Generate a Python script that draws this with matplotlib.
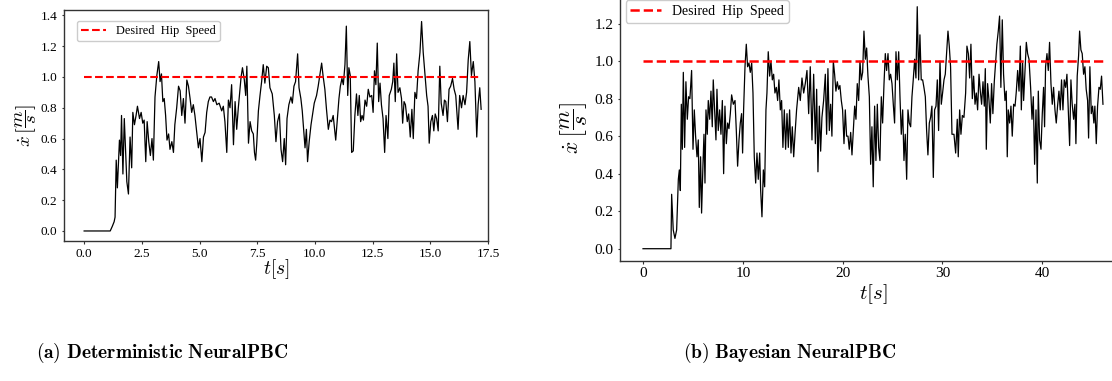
import matplotlib
matplotlib.use("Agg")
import matplotlib.pyplot as plt

plt.rcParams["font.family"] = ["Liberation Serif", "DejaVu Serif"]
plt.rcParams["mathtext.fontset"] = "cm"

# -----------------------------
# Deterministic NeuralPBC
# -----------------------------
det_t = [
    0.00, 1.13, 1.22, 1.30, 1.34, 1.39, 1.44, 1.53, 1.58, 1.62,
    1.68, 1.74, 1.85, 1.92, 1.99, 2.06, 2.11, 2.18, 2.25, 2.31,
    2.40, 2.47, 2.54, 2.60, 2.67, 2.73, 2.80, 2.87, 2.94, 3.00,
    3.07, 3.15, 3.23, 3.29, 3.35, 3.41, 3.47, 3.53, 3.59, 3.66,
    3.72, 3.80, 3.87, 3.93, 4.01, 4.09, 4.16, 4.23, 4.30, 4.37,
    4.45, 4.52, 4.59, 4.66, 4.73, 4.80, 4.88, 4.95, 5.02, 5.10,
    5.17, 5.24, 5.31, 5.38, 5.45, 5.52, 5.60, 5.67, 5.75, 5.85,
    5.96, 6.03, 6.10, 6.18, 6.25, 6.32, 6.39, 6.47, 6.54, 6.61,
    6.68, 6.80, 6.86, 6.94, 7.00, 7.05, 7.12, 7.19, 7.26, 7.33,
    7.38, 7.43, 7.48, 7.55, 7.62, 7.69, 7.76, 7.83, 7.91, 7.98,
    8.05, 8.15, 8.24, 8.31, 8.38, 8.46, 8.53, 8.60, 8.67, 8.73,
    8.79, 8.87, 8.96, 9.02, 9.09, 9.16, 9.25, 9.31, 9.39, 9.45,
    9.51, 9.57, 9.63, 9.68, 9.75, 9.83, 9.90, 9.97, 10.07, 10.14,
    10.23, 10.29, 10.35, 10.43, 10.50, 10.58, 10.65, 10.72, 10.79, 10.90,
    10.98, 11.04, 11.10, 11.17, 11.23, 11.30, 11.36, 11.42, 11.47, 11.53,
    11.59, 11.66, 11.73, 11.80, 11.86, 11.92, 11.98, 12.04, 12.10, 12.17,
    12.24, 12.31, 12.38, 12.46, 12.52, 12.58, 12.64, 12.70, 12.76, 12.82,
    12.88, 12.95, 13.02, 13.08, 13.16, 13.22, 13.31, 13.37, 13.42, 13.48,
    13.54, 13.60, 13.68, 13.75, 13.80, 13.86, 13.92, 14.00, 14.06, 14.13,
    14.20, 14.26, 14.33, 14.40, 14.47, 14.55, 14.62, 14.69, 14.77, 14.84,
    14.90, 14.95, 15.02, 15.09, 15.15, 15.21, 15.27, 15.34, 15.41, 15.47,
    15.55, 15.61, 15.67, 15.74, 15.81, 15.88, 15.96, 16.03, 16.10, 16.20,
    16.27, 16.35, 16.42, 16.50, 16.57, 16.64, 16.71, 16.78, 16.86, 16.93,
    17.01, 17.07, 17.14, 17.20,
]
det_v = [
    0.00, 0.00, 0.03, 0.06, 0.09, 0.46, 0.28, 0.59, 0.49, 0.75,
    0.37, 0.73, 0.32, 0.24, 0.61, 0.41, 0.77, 0.69, 0.75, 0.81,
    0.73, 0.77, 0.70, 0.72, 0.45, 0.71, 0.58, 0.49, 0.60, 0.46,
    0.87, 1.01, 1.10, 0.97, 1.02, 0.84, 0.86, 0.75, 0.59, 0.63,
    0.53, 0.58, 0.51, 0.69, 0.80, 0.94, 0.91, 0.75, 0.86, 0.70,
    0.98, 0.94, 0.86, 0.77, 0.82, 0.75, 0.64, 0.54, 0.60, 0.45,
    0.61, 0.64, 0.77, 0.84, 0.87, 0.87, 0.84, 0.86, 0.82, 0.83,
    0.78, 0.81, 0.71, 0.51, 0.85, 0.80, 0.95, 0.56, 0.84, 0.66,
    0.80, 1.00, 1.06, 0.98, 0.88, 1.07, 0.57, 0.71, 0.65, 0.63,
    0.51, 0.46, 0.57, 0.78, 0.88, 0.97, 1.08, 0.96, 1.07, 1.06,
    0.93, 0.89, 0.75, 0.58, 0.71, 0.76, 0.53, 0.45, 0.60, 0.43,
    0.73, 0.82, 0.87, 0.83, 0.94, 0.97, 1.15, 0.93, 0.86, 0.78,
    0.66, 0.54, 0.66, 0.45, 0.58, 0.69, 0.76, 0.83, 0.88, 0.94,
    1.03, 1.09, 1.01, 0.92, 0.79, 0.66, 0.72, 0.71, 0.75, 0.59,
    0.74, 0.86, 0.94, 0.99, 0.95, 1.08, 1.33, 0.88, 1.06, 1.01,
    0.51, 0.52, 0.75, 0.89, 0.75, 0.88, 0.71, 0.75, 0.72, 0.85,
    0.81, 0.92, 0.87, 0.88, 0.77, 1.04, 0.95, 1.22, 0.84, 0.96,
    0.82, 0.73, 0.51, 0.75, 0.60, 0.88, 0.92, 0.97, 1.09, 0.84,
    1.15, 0.90, 0.93, 0.86, 0.70, 0.84, 0.82, 0.71, 0.76, 0.61,
    0.79, 0.60, 0.90, 0.86, 1.04, 1.16, 1.36, 1.16, 1.01, 0.88,
    0.81, 0.57, 0.71, 0.75, 0.65, 0.76, 0.73, 0.65, 1.07, 0.83,
    0.75, 0.85, 0.84, 0.71, 0.92, 0.94, 0.99, 0.92, 0.88, 0.66,
    0.88, 0.80, 0.88, 0.82, 0.90, 1.11, 1.23, 1.01, 1.10, 0.97,
    0.61, 0.82, 0.93, 0.79,
]

# -----------------------------
# Bayesian NeuralPBC
# -----------------------------
bay_t = [
    0.00, 2.80, 2.87, 3.03, 3.20, 3.37, 3.54, 3.64, 3.74, 3.84,
    3.94, 4.04, 4.17, 4.30, 4.44, 4.57, 4.70, 4.87, 5.01, 5.14,
    5.27, 5.41, 5.54, 5.64, 5.77, 5.87, 6.01, 6.11, 6.21, 6.31,
    6.44, 6.54, 6.68, 6.81, 6.94, 7.04, 7.18, 7.31, 7.41, 7.54,
    7.68, 7.81, 7.95, 8.08, 8.21, 8.35, 8.48, 8.61, 8.75, 8.88,
    9.05, 9.22, 9.35, 9.48, 9.62, 9.75, 9.88, 9.98, 10.08, 10.22,
    10.35, 10.48, 10.62, 10.75, 10.89, 11.02, 11.15, 11.29, 11.42, 11.55,
    11.69, 11.79, 11.92, 12.06, 12.19, 12.32, 12.42, 12.55, 12.69, 12.82,
    12.96, 13.09, 13.22, 13.36, 13.49, 13.62, 13.76, 13.89, 14.02, 14.16,
    14.29, 14.43, 14.56, 14.69, 14.83, 14.96, 15.10, 15.23, 15.39, 15.60,
    15.76, 15.93, 16.10, 16.26, 16.43, 16.60, 16.76, 16.93, 17.10, 17.27,
    17.40, 17.53, 17.67, 17.80, 17.93, 18.10, 18.27, 18.40, 18.53, 18.67,
    18.80, 18.93, 19.07, 19.20, 19.33, 19.47, 19.60, 19.73, 19.87, 20.00,
    20.14, 20.27, 20.40, 20.54, 20.67, 20.81, 20.94, 21.07, 21.21, 21.34,
    21.47, 21.61, 21.74, 21.87, 22.01, 22.14, 22.28, 22.41, 22.54, 22.68,
    22.81, 22.94, 23.07, 23.21, 23.34, 23.48, 23.61, 23.74, 23.88, 24.01,
    24.15, 24.28, 24.41, 24.55, 24.68, 24.81, 24.95, 25.08, 25.21, 25.35,
    25.48, 25.62, 25.75, 25.88, 26.02, 26.15, 26.28, 26.42, 26.55, 26.68,
    26.82, 26.95, 27.08, 27.22, 27.35, 27.48, 27.62, 27.75, 27.88, 28.02,
    28.15, 28.29, 28.42, 28.55, 28.69, 28.82, 28.95, 29.09, 29.22, 29.36,
    29.49, 29.62, 29.76, 29.89, 30.02, 30.16, 30.29, 30.42, 30.56, 30.69,
    30.82, 30.96, 31.16, 31.33, 31.49, 31.59, 31.73, 31.86, 32.00, 32.16,
    32.33, 32.46, 32.60, 32.73, 32.86, 33.00, 33.13, 33.27, 33.40, 33.53,
    33.67, 33.80, 33.93, 34.07, 34.20, 34.30, 34.40, 34.53, 34.67, 34.80,
    34.93, 35.06, 35.20, 35.33, 35.46, 35.60, 35.73, 35.86, 36.00, 36.13,
    36.27, 36.40, 36.50, 36.60, 36.74, 36.87, 37.00, 37.14, 37.28, 37.41,
    37.54, 37.68, 37.81, 37.91, 38.04, 38.14, 38.28, 38.41, 38.54, 38.68,
    38.84, 38.98, 39.11, 39.24, 39.38, 39.51, 39.61, 39.74, 39.88, 40.01,
    40.14, 40.24, 40.34, 40.48, 40.61, 40.74, 40.88, 41.01, 41.14, 41.28,
    41.41, 41.54, 41.68, 41.81, 41.94, 42.08, 42.21, 42.35, 42.48, 42.61,
    42.75, 42.88, 43.01, 43.15, 43.28, 43.38, 43.51, 43.65, 43.75, 43.88,
    44.01, 44.15, 44.28, 44.41, 44.55, 44.65, 44.78, 44.92, 45.05, 45.18,
    45.28, 45.42, 45.55, 45.69, 45.82, 45.95, 46.09,
]
bay_v = [
    0.00, 0.00, 0.29, 0.10, 0.055, 0.10, 0.37, 0.42, 0.31, 0.77,
    0.53, 0.94, 0.54, 0.89, 0.69, 0.81, 0.80, 0.95, 0.53, 0.74,
    0.60, 0.49, 0.58, 0.22, 0.49, 0.19, 0.45, 0.61, 0.35, 0.74,
    0.61, 0.79, 0.69, 0.84, 0.65, 0.90, 0.74, 0.58, 0.85, 0.63,
    0.74, 0.61, 0.79, 0.40, 0.76, 0.56, 0.67, 0.64, 0.72, 0.82,
    0.77, 0.79, 0.63, 0.44, 0.58, 0.67, 0.72, 0.51, 0.74, 0.97,
    1.09, 0.97, 0.99, 0.94, 0.99, 0.83, 0.49, 0.35, 0.51, 0.37,
    0.51, 0.31, 0.17, 0.42, 0.33, 0.74, 0.83, 1.05, 0.92, 1.00,
    0.90, 0.93, 0.83, 0.86, 0.79, 0.90, 0.74, 0.79, 0.54, 0.74,
    0.53, 0.72, 0.54, 0.74, 0.51, 0.65, 0.49, 0.61, 0.74, 0.86,
    0.79, 0.91, 0.83, 0.88, 0.95, 0.72, 0.97, 0.58, 0.93, 0.56,
    0.85, 0.41, 0.76, 0.52, 0.70, 0.79, 0.93, 0.61, 0.96, 0.63,
    0.77, 0.60, 1.00, 0.93, 0.84, 0.89, 0.85, 0.87, 0.79, 0.74,
    0.56, 0.74, 0.60, 0.60, 0.53, 0.62, 0.50, 0.63, 0.76, 0.69,
    0.88, 0.79, 1.00, 0.90, 0.94, 1.16, 1.01, 1.07, 0.92, 0.81,
    0.45, 0.65, 0.33, 0.76, 0.47, 0.77, 0.54, 0.47, 0.81, 0.67,
    0.88, 1.04, 0.95, 1.04, 0.90, 0.93, 0.88, 0.77, 0.67, 1.05,
    0.90, 1.05, 0.81, 0.61, 0.74, 0.47, 0.61, 0.37, 0.74, 0.67,
    0.65, 0.81, 0.90, 1.01, 0.91, 1.29, 0.90, 1.14, 0.90, 0.90,
    0.86, 0.81, 0.63, 0.50, 0.67, 0.70, 0.76, 0.38, 0.74, 0.76,
    0.90, 0.63, 1.00, 0.77, 0.83, 0.90, 0.93, 1.04, 1.16, 1.08,
    0.97, 0.61, 0.61, 0.51, 0.69, 0.49, 0.74, 0.61, 0.71, 0.70,
    0.83, 1.08, 1.04, 0.91, 1.09, 0.80, 0.92, 0.77, 0.83, 0.74,
    0.93, 0.84, 0.77, 0.89, 0.76, 0.96, 0.53, 0.88, 0.79, 0.67,
    0.88, 0.72, 0.89, 0.99, 1.09, 1.16, 1.24, 0.86, 1.22, 0.93,
    0.79, 0.84, 0.49, 0.74, 0.67, 0.76, 0.60, 0.77, 0.76, 0.84,
    0.95, 0.84, 1.08, 0.74, 0.99, 0.79, 0.95, 1.10, 1.04, 1.01,
    0.86, 0.69, 0.81, 0.45, 0.74, 0.35, 0.84, 0.58, 0.53, 0.72,
    0.86, 0.65, 0.97, 1.04, 0.95, 1.10, 0.88, 0.77, 0.86, 0.74,
    0.67, 0.76, 0.84, 0.74, 0.90, 0.74, 0.90, 0.86, 0.93, 0.74,
    0.55, 0.90, 0.77, 0.69, 0.77, 0.56, 0.92, 1.03, 1.16, 1.06,
    1.04, 0.93, 0.97, 0.85, 0.79, 0.59, 0.97, 0.72, 0.76, 0.67,
    0.76, 0.56, 0.76, 0.86, 0.85, 0.92, 0.77,
]

desired_speed = 1.0
det_xticks = [0.0, 2.5, 5.0, 7.5, 10.0, 12.5, 15.0, 17.5]
det_yticks = [0.0, 0.2, 0.4, 0.6, 0.8, 1.0, 1.2, 1.4]
bay_xticks = [0, 10, 20, 30, 40]
bay_yticks = [0.0, 0.2, 0.4, 0.6, 0.8, 1.0, 1.2]
captions = ["(a)\\ Deterministic\\ NeuralPBC", "(b)\\ Bayesian\\ NeuralPBC"]

assert len(det_t) == len(det_v)
assert len(bay_t) == len(bay_v)

fig = plt.figure(figsize=(11.12, 3.81), dpi=100)

# left panel (full box), right panel runs past the figure edge like the source crop
ax1 = fig.add_axes([0.0576, 0.3675, 0.3813, 0.6063])
ax2 = fig.add_axes([0.5576, 0.3157, 0.4550, 0.6987])

ylab = r"$\dot{x}\,\left[\dfrac{m}{s}\right]$"


def style_axes(ax, tick_size):
    for sp in ax.spines.values():
        sp.set_color("#333333")
        sp.set_linewidth(1.0)
    ax.tick_params(length=1.8, width=0.8, color="#333333",
                   labelsize=tick_size, pad=3)


# -----------------------------
# Deterministic
# -----------------------------
ax1.plot(det_t, det_v, color="black", linewidth=0.9)
ax1.plot([det_t[0], det_t[-1]], [desired_speed, desired_speed],
         color="red", linestyle="--", linewidth=1.5, label="Desired  Hip  Speed")
ax1.set_xlim(-0.87, 17.5)
ax1.set_ylim(-0.065, 1.435)
ax1.set_xticks(det_xticks)
ax1.set_xticklabels([f"{v:.1f}" for v in det_xticks])
ax1.set_yticks(det_yticks)
ax1.set_yticklabels([f"{v:.1f}" for v in det_yticks])
style_axes(ax1, 9.5)
ax1.set_xlabel(r"$t[s]$", fontsize=14, labelpad=-2)
ax1.set_ylabel(ylab, fontsize=13.5, labelpad=1)
ax1.legend(loc="upper left", bbox_to_anchor=(0.022, 0.97), fontsize=8.8,
           frameon=True, fancybox=True, edgecolor="#cccccc", framealpha=1,
           handlelength=2.0, borderpad=0.35, borderaxespad=0.3)

# -----------------------------
# Bayesian
# -----------------------------
ax2.plot(bay_t, bay_v, color="black", linewidth=0.9)
ax2.plot([bay_t[0], bay_t[-1]], [desired_speed, desired_speed],
         color="red", linestyle="--", linewidth=1.8, label="Desired  Hip  Speed")
ax2.set_xlim(-2.3, 48.4)
ax2.set_ylim(-0.064, 1.355)
ax2.set_xticks(bay_xticks)
ax2.set_yticks(bay_yticks)
ax2.set_yticklabels([f"{v:.1f}" for v in bay_yticks])
style_axes(ax2, 11)
ax2.set_xlabel(r"$t[s]$", fontsize=15, labelpad=1)
ax2.set_ylabel(ylab, fontsize=15.5, labelpad=3)
ax2.legend(loc="upper left", bbox_to_anchor=(0.0, 1.0), fontsize=10,
           frameon=True, fancybox=True, edgecolor="#cccccc", framealpha=1,
           handlelength=2.2, borderpad=0.35, borderaxespad=0.4)

# -----------------------------
# Captions
# -----------------------------
fig.text(0.146, 0.073, r"$\mathbf{" + captions[0] + "}$",
         ha="center", va="center", fontsize=14)
fig.text(0.710, 0.073, r"$\mathbf{" + captions[1] + "}$",
         ha="center", va="center", fontsize=14)

fig.savefig("out.png", dpi=100)
